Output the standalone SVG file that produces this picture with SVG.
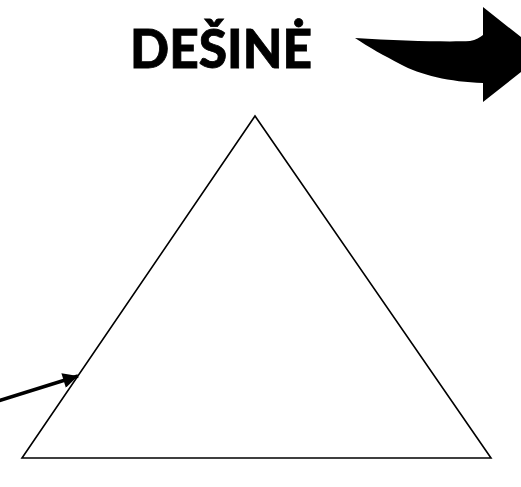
<svg xmlns="http://www.w3.org/2000/svg" width="521" height="487" viewBox="0 0 521 487">
<style>
.lbl{font-family:Lato,"Open Sans","Liberation Sans",sans-serif;font-weight:900;font-size:54px;fill:#000;stroke:#000;stroke-width:0.8}
.edge{stroke:#000;stroke-width:3.5;fill:none}
</style>
<defs>
<marker id="ah" viewBox="0 0 10 10" refX="10" refY="5" markerWidth="5" markerHeight="4.3" orient="auto" markerUnits="strokeWidth">
<path d="M0,0 L10,5 L0,10 z" fill="#000"/>
</marker>
</defs>
<rect width="521" height="487" fill="#fff"/>
<g id="title">
<text class="lbl" x="130" y="68" textLength="182" lengthAdjust="spacingAndGlyphs">DEŠINĖ</text>
</g>
<g id="bigArrow">
<path d="M355,38 C400,41 450,42 470,41 C476,40 480,37 483,35 L483,7 L543,54.5 L483,102 L483,83 C450,82 420,75 400,64 C385,56 368,47 355,38 Z" fill="#000"/>
</g>
<g id="triangle">
<polygon points="255,116 22,458 491,458" fill="none" stroke="#000" stroke-width="1.6" stroke-linejoin="miter"/>
</g>
<g id="connectors">
<line class="edge" x1="-2" y1="401" x2="78" y2="376" marker-end="url(#ah)"/>
</g>
</svg>
